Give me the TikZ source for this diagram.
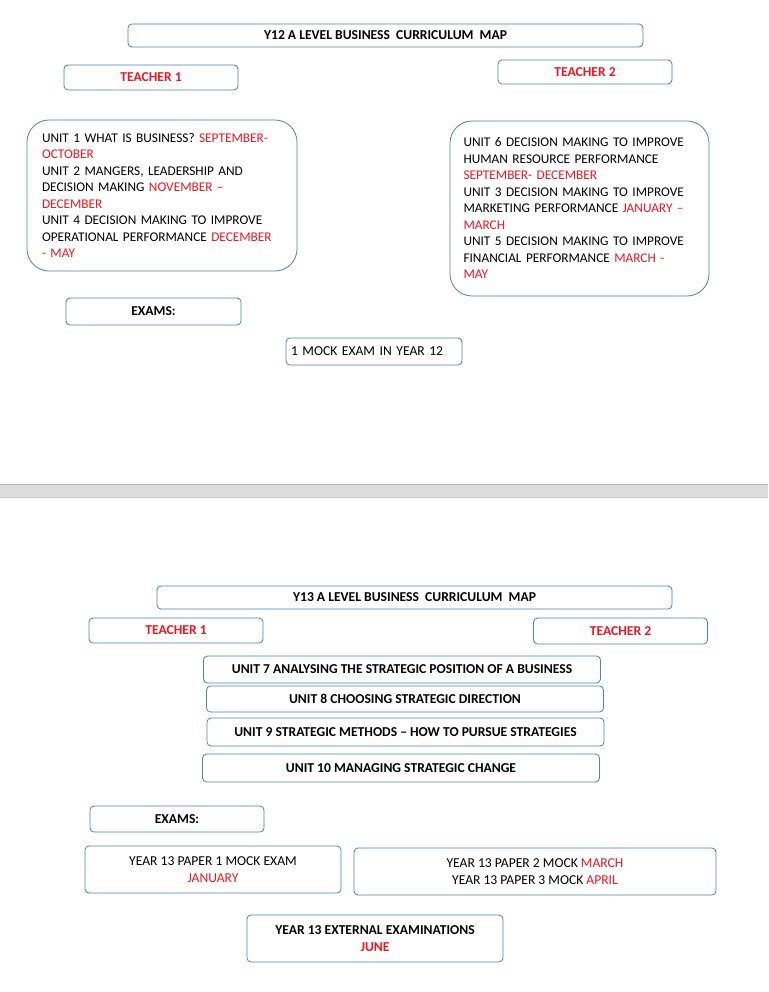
\documentclass[tikz,border=0pt]{standalone}
\usepackage{fontspec}
\setmainfont{Carlito}
\usepackage{xcolor}
\usepackage{tikz}
\usetikzlibrary{positioning}
\definecolor{boxblue}{RGB}{79, 129, 189}
\definecolor{monthred}{RGB}{240, 22, 34}
\definecolor{bargray}{RGB}{221, 221, 221}
\newcommand{\mon}[1]{\textcolor{monthred}{#1}}
\tikzset{
  plainbox/.style={draw=boxblue, line width=0.8pt, rounded corners=4pt, fill=white,
                   inner sep=0pt, align=center, font=\fontsize{13.6}{17}\selectfont},
  headbox/.style={plainbox, font=\fontsize{13.6}{17}\selectfont\bfseries},
  teacherbox/.style={headbox, text=monthred, minimum width=174, minimum height=25},
  unitlist/.style={plainbox, rounded corners=22pt, align=left,
                   font=\fontsize{13.3}{16.5}\selectfont},
  unitbar/.style={headbox, minimum width=397, minimum height=27}
}

\begin{document}
\begin{tikzpicture}[x=1pt, y=-1pt]
  \useasboundingbox (0,0) rectangle (768,992);

  % year 12
  \node[headbox, minimum width=515, minimum height=23] (titleA) at (385.5,35.5)
    {Y12 A LEVEL BUSINESS\ \ CURRICULUM\ \ MAP};
  \node[teacherbox] (teachA1) at (151,77.5) {TEACHER 1};
  \node[teacherbox, minimum height=24] (teachA2) at (585,72) {TEACHER 2};

  \node[unitlist, minimum width=270, minimum height=151, text width=240] (listA1) at (162,195.5)
    {UNIT 1 WHAT IS BUSINESS? \mon{SEPTEMBER-}\\
     \mon{OCTOBER}\\
     UNIT 2 MANGERS, LEADERSHIP AND\\
     DECISION MAKING \mon{NOVEMBER --}\\
     \mon{DECEMBER}\\
     UNIT 4 DECISION MAKING TO IMPROVE\\
     OPERATIONAL PERFORMANCE \mon{DECEMBER}\\
     \mon{- MAY}};
  \node[unitlist, minimum width=259, minimum height=175, text width=232] (listA2) at (579.5,208.5)
    {UNIT 6 DECISION MAKING TO IMPROVE\\
     HUMAN RESOURCE PERFORMANCE\\
     \mon{SEPTEMBER- DECEMBER}\\
     UNIT 3 DECISION MAKING TO IMPROVE\\
     MARKETING PERFORMANCE \mon{JANUARY --}\\
     \mon{MARCH}\\
     UNIT 5 DECISION MAKING TO IMPROVE\\
     FINANCIAL PERFORMANCE \mon{MARCH -}\\
     \mon{MAY}};

  \node[headbox, minimum width=175, minimum height=27] (examsA) at (153.5,311.5) {EXAMS:};
  \node[plainbox, minimum width=176, minimum height=27, text width=166, align=left]
    (mockA) at (374,351.5) {1 MOCK EXAM IN YEAR 12};

  % page break
  \fill[bargray] (0,484) rectangle (768,497);
  \draw[gray!60] (0,484) -- (768,484);
  \draw[gray!40] (0,497) -- (768,497);

  % year 13
  \node[headbox, minimum width=515, minimum height=23] (titleB) at (414.5,597.5)
    {Y13 A LEVEL BUSINESS\ \ CURRICULUM\ \ MAP};
  \node[teacherbox] (teachB1) at (176,630.5) {TEACHER 1};
  \node[teacherbox, minimum height=26] (teachB2) at (620.5,631) {TEACHER 2};

  \node[unitbar] (unit7) at (402,669.5) {UNIT 7 ANALYSING THE STRATEGIC POSITION OF A BUSINESS};
  \node[unitbar, minimum height=26] (unit8) at (405,699) {UNIT 8 CHOOSING STRATEGIC DIRECTION};
  \node[unitbar, minimum height=28] (unit9) at (405.5,732) {UNIT 9 STRATEGIC METHODS -- HOW TO PURSUE STRATEGIES};
  \node[unitbar, minimum height=28] (unit10) at (401,768) {UNIT 10 MANAGING STRATEGIC CHANGE};

  \node[headbox, minimum width=174, minimum height=26] (examsB) at (177,819) {EXAMS:};
  \node[plainbox, minimum width=256, minimum height=47] (paper1) at (213,869.5)
    {YEAR 13 PAPER 1 MOCK EXAM\\ \mon{JANUARY}};
  \node[plainbox, minimum width=362, minimum height=47] (paper23) at (535,871.5)
    {YEAR 13 PAPER 2 MOCK \mon{MARCH}\\ YEAR 13 PAPER 3 MOCK \mon{APRIL}};
  \node[headbox, minimum width=256, minimum height=47] (external) at (375,938.5)
    {YEAR 13 EXTERNAL EXAMINATIONS\\ \mon{JUNE}};
\end{tikzpicture}
\end{document}
